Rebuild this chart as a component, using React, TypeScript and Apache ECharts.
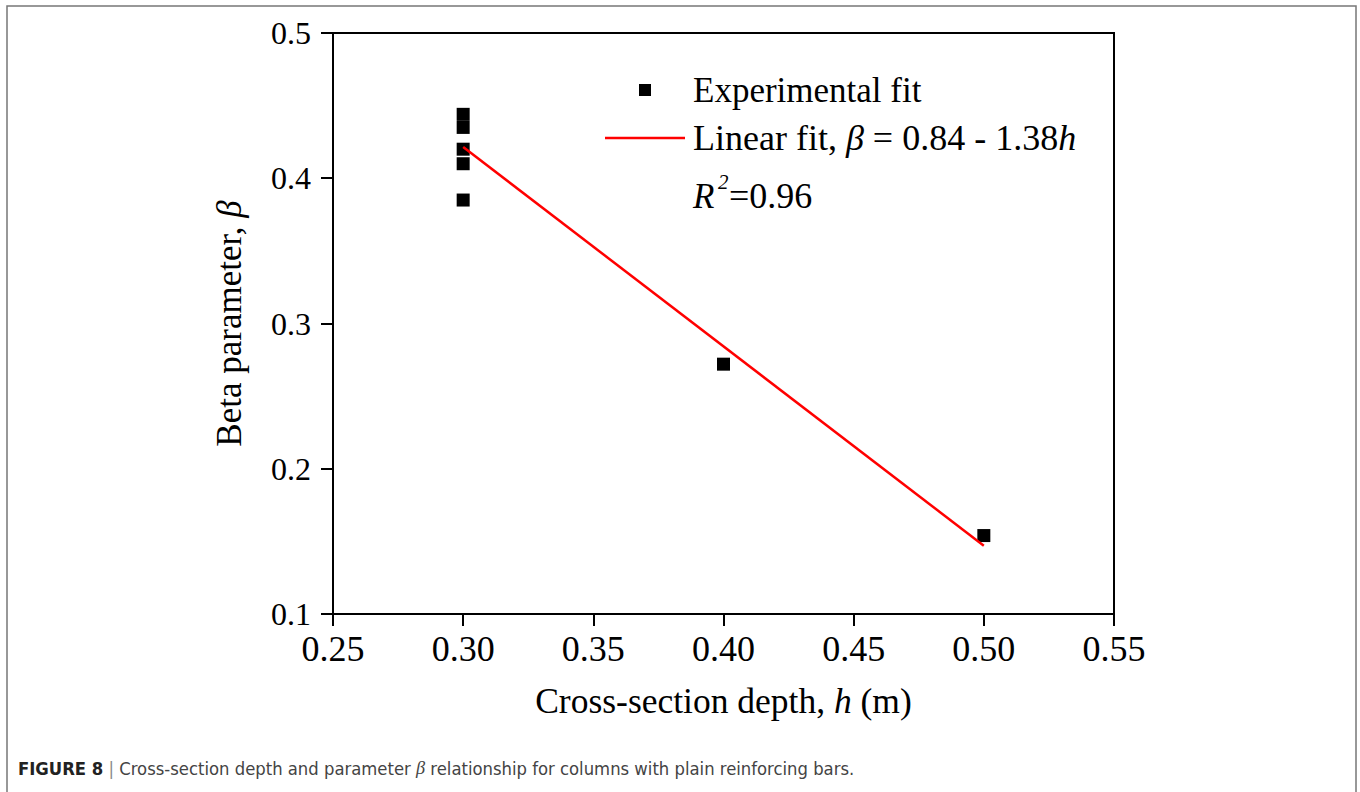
import React, { useEffect, useRef } from "react";
import * as echarts from "echarts";

const depthExp = [0.3, 0.3, 0.3, 0.3, 0.3, 0.4, 0.5];
const betaExp = [0.444, 0.435, 0.42, 0.41, 0.385, 0.272, 0.154];
const depthFit = [0.3, 0.5];
const betaFit = [0.4215, 0.147];
const xTicks = { min: 0.25, max: 0.55, interval: 0.05 };
const yTicks = { min: 0.1, max: 0.5, interval: 0.1 };

const SERIF = "'Liberation Serif', 'Times New Roman', serif";
const SANS = "'Liberation Sans Narrow', 'DejaVu Sans Condensed', 'Liberation Sans', Arial, sans-serif";

export default function App() {
  const ref = useRef<HTMLDivElement>(null);
  useEffect(() => {
    if (!ref.current) return;
    const chart = echarts.init(ref.current, undefined, { renderer: "svg" });
    const expData = depthExp.map((d, i) => [d, betaExp[i]]);
    const fitData = depthFit.map((d, i) => [d, betaFit[i]]);
    chart.setOption({
      animation: false,
      backgroundColor: "#fff",
      grid: {
        left: 333,
        top: 33,
        width: 781,
        height: 581,
        show: true,
        borderColor: "#000",
        borderWidth: 2,
        backgroundColor: "transparent",
      },
      xAxis: {
        type: "value",
        min: xTicks.min,
        max: xTicks.max,
        interval: xTicks.interval,
        name: "Cross-section depth, {i|h} (m)",
        nameLocation: "middle",
        nameGap: 69,
        nameTextStyle: {
          fontFamily: SERIF,
          fontSize: 35.5,
          color: "#000",
          rich: { i: { fontFamily: SERIF, fontSize: 35.5, fontStyle: "italic", color: "#000" } },
        },
        axisLine: { show: true, lineStyle: { color: "#000", width: 2 } },
        axisTick: { show: true, inside: false, length: 12, lineStyle: { color: "#000", width: 2 } },
        axisLabel: {
          fontFamily: SERIF,
          fontSize: 36,
          color: "#000",
          margin: 17,
          formatter: (v: number) => v.toFixed(2),
        },
        splitLine: { show: false },
      },
      yAxis: {
        type: "value",
        min: yTicks.min,
        max: yTicks.max,
        interval: yTicks.interval,
        name: "Beta parameter, {i|β}",
        nameLocation: "middle",
        nameGap: 86,
        nameTextStyle: {
          fontFamily: SERIF,
          fontSize: 35,
          color: "#000",
          rich: { i: { fontFamily: SERIF, fontSize: 35, fontStyle: "italic", color: "#000" } },
        },
        axisLine: { show: true, lineStyle: { color: "#000", width: 2 } },
        axisTick: { show: true, inside: false, length: 12, lineStyle: { color: "#000", width: 2 } },
        axisLabel: {
          fontFamily: SERIF,
          fontSize: 32,
          color: "#000",
          margin: 22,
          formatter: (v: number) => v.toFixed(1),
        },
        splitLine: { show: false },
      },
      series: [
        {
          type: "line",
          name: "Linear fit",
          data: fitData,
          showSymbol: false,
          symbol: "none",
          lineStyle: { color: "#ff0000", width: 2.5 },
          z: 3,
        },
        {
          type: "scatter",
          name: "Experimental fit",
          data: expData,
          symbol: "rect",
          symbolSize: 13,
          itemStyle: { color: "#000", opacity: 1 },
          z: 2,
        },
      ],
      graphic: [
        {
          type: "rect",
          shape: { x: 7, y: 6, width: 1349, height: 800 },
          style: { fill: "none", stroke: "#777", lineWidth: 1.5 },
          silent: true,
        },
        {
          type: "rect",
          shape: { x: 639, y: 84, width: 12, height: 12 },
          style: { fill: "#000" },
        },
        {
          type: "text",
          x: 693,
          y: 90,
          style: {
            text: "Experimental fit",
            fontFamily: SERIF,
            fontSize: 35,
            fill: "#000",
            verticalAlign: "middle",
          },
        },
        {
          type: "line",
          shape: { x1: 605, y1: 138, x2: 685, y2: 138 },
          style: { stroke: "#ff0000", lineWidth: 2.5 },
        },
        {
          type: "text",
          x: 693,
          y: 138,
          style: {
            text: "Linear fit, {i|β} = 0.84 - 1.38{i|h}",
            fontFamily: SERIF,
            fontSize: 36,
            fill: "#000",
            verticalAlign: "middle",
            rich: { i: { fontFamily: SERIF, fontSize: 36, fontStyle: "italic", fill: "#000" } },
          },
        },
        {
          type: "text",
          x: 693,
          y: 196,
          style: {
            text: "R",
            fontFamily: SERIF,
            fontSize: 35,
            fontStyle: "italic",
            fill: "#000",
            verticalAlign: "middle",
          },
        },
        {
          type: "text",
          x: 718,
          y: 182,
          style: {
            text: "2",
            fontFamily: SERIF,
            fontSize: 21,
            fontStyle: "italic",
            fill: "#000",
            verticalAlign: "middle",
          },
        },
        {
          type: "text",
          x: 729,
          y: 196,
          style: {
            text: "=0.96",
            fontFamily: SERIF,
            fontSize: 36,
            fill: "#000",
            verticalAlign: "middle",
          },
        },
        {
          type: "text",
          x: 18,
          y: 768,
          style: {
            text: "{b|FIGURE 8} {s||} Cross-section depth and parameter {i|β} relationship for columns with plain reinforcing bars.",
            fontFamily: SANS,
            fontSize: 18.3,
            fill: "#444",
            verticalAlign: "middle",
            rich: {
              b: { fontFamily: SANS, fontSize: 18.3, fontWeight: "bold", fill: "#222" },
              s: { fontFamily: SANS, fontSize: 18.3, fill: "#888" },
              i: { fontFamily: SERIF, fontSize: 18.3, fontStyle: "italic", fill: "#444" },
            },
          },
        },
      ],
    });
    return () => chart.dispose();
  }, []);
  return (
    <div
      ref={ref}
      style={{ position: "fixed", left: 0, top: 0, width: 1360, height: 792, background: "#fff" }}
    />
  );
}
